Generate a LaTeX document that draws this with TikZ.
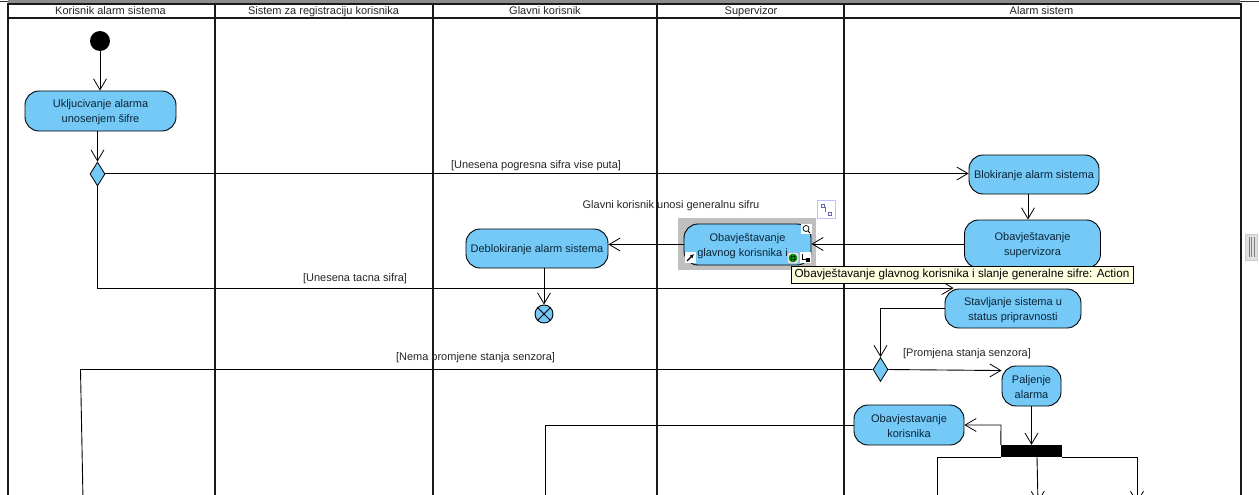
\documentclass[tikz,border=0pt]{standalone}
\usepackage{fontspec}
\setmainfont{Liberation Sans}
\usepackage{xcolor}
\usepackage{tikz}
\usetikzlibrary{positioning,arrows.meta,shapes.geometric}
\definecolor{actfill}{HTML}{74C9F6}
\definecolor{acttext}{HTML}{0B2438}
\definecolor{tipfill}{HTML}{FFFFE1}
\tikzset{
    action/.style={draw=black, fill=actfill, rounded corners=14pt, text=acttext, align=center, inner sep=0pt, line width=0.9pt, font=\fontsize{11}{15}\selectfont, execute at begin node=\rule{0pt}{11pt}},
    actiontwo/.style={action, execute at begin node=\rule{0pt}{26pt}},
    decision/.style={draw=black, fill=actfill, diamond, aspect=0.62, inner sep=0pt, minimum width=15pt, minimum height=24pt, line width=0.8pt},
    guard/.style={anchor=base, inner sep=0pt, text=black!85, font=\fontsize{11}{13}\selectfont},
    lanetitle/.style={anchor=base, inner sep=0pt, text=black!85, font=\fontsize{11}{13}\selectfont},
    laneline/.style={line width=2pt, black!90},
    flow/.style={->, line width=0.9pt, black},
    flowline/.style={line width=0.9pt, black}
}
\begin{document}
\begin{tikzpicture}[x=1pt, y=-1pt, >={Straight Barb[length=11pt,width=13pt,line width=0.8pt]}]
    \useasboundingbox (0,0) rectangle (1259,495);
    \clip (0,0) rectangle (1259,495);
    \fill[white] (0,0) rectangle (1259,495);

    % Window edge and scroll handle
    \draw[line width=0.8pt, black!80] (0,1) -- (1259,1);
    \fill[black!45] (8,0) rectangle (1240,3);
    \draw[fill=black!12, draw=black!20] (1245,234) rectangle (1257,260);
    \foreach \x in {1249,1251.5,1254} \draw[black!50, line width=0.6pt] (\x,237) -- (\x,257);

    % Swimlanes
    \draw[laneline] (7,4) -- (1240,4);
    \draw[laneline] (7,18) -- (1240,18);
    \foreach \x in {7.5,215,433,657,844.3,1240.5} \draw[laneline] (\x,3) -- (\x,495);
    \foreach \x/\name/\title in {110.5/laneA/Korisnik alarm sistema, 323.5/laneB/Sistem za registraciju korisnika, 545/laneC/Glavni korisnik, 751/laneD/Supervizor, 1041.5/laneE/Alarm sistem}
        \node[lanetitle] (\name) at (\x,15) {\title};

    % Korisnik alarm sistema
    \node[circle, fill=black, inner sep=0pt, minimum size=20pt] (start) at (100,41) {};
    \node[actiontwo, minimum width=151pt, minimum height=40pt] (ukljucivanje) at (100.5,111) {Ukljucivanje alarma\\unosenjem šifre};
    \node[decision] (dec1) at (97.5,174) {};

    % Selected action, with its handles
    \fill[black!25] (678,218) rectangle (816,270);
    \node[actiontwo, minimum width=127pt, minimum height=41pt] (obavGlavni) at (747.5,244.5) {Obavještavanje\\glavnog korisnika i\hspace*{10pt}};
    \node[draw=blue!25, fill=white, minimum size=18pt, inner sep=0pt] (resize) at (826,209) {};
    \draw[blue!50!black!60, line width=0.6pt] (821,204) rectangle (824,207) (825,207) -- (825,212) (828,212) rectangle (831,215);
    \fill[white] (685,252) rectangle (696,263);
    \draw[-{Latex[length=4pt,width=4pt]}, line width=1.3pt, black] (687,261) -- (694,254);
    \fill[white] (801,224) rectangle (812,234);
    \draw[black, fill=white, line width=0.7pt] (806,228.5) circle (3pt);
    \draw[black, line width=0.8pt] (808,231) -- (810,233);
    \node[draw=black!35, fill=black!10, rounded corners=2pt, minimum size=11pt, inner sep=0pt] (subframe) at (793,258) {};
    \node[circle, draw=green!40!black, fill=green!65!black, minimum size=8pt, inner sep=0pt] (subicon) at (793,258) {};
    \draw[green!25!black, line width=0.5pt] (790,256.5) -- (796,256.5) (790,259.5) -- (796,259.5) (791.5,255) -- (791.5,261) (794.5,255) -- (794.5,261);
    \fill[white] (800,252) rectangle (811,263);
    \draw[black, line width=0.8pt] (802,254) -- (802,259) -- (806,259);
    \fill[black] (806,258) rectangle (810,262);

    % Glavni korisnik
    \node[action, minimum width=142pt, minimum height=39pt] (deblokiranje) at (537,248.5) {Deblokiranje alarm sistema};
    \node[circle, draw=black, fill=actfill, inner sep=0pt, minimum size=18pt, line width=0.9pt] (finalDot) at (544,314) {};
    \draw[black, line width=0.9pt] (finalDot.north west) -- (finalDot.south east) (finalDot.north east) -- (finalDot.south west);

    % Alarm sistem
    \node[action, minimum width=130pt, minimum height=39pt] (blokiranje) at (1034,174.5) {Blokiranje alarm sistema};
    \node[actiontwo, minimum width=136pt, minimum height=48pt] (obavSuper) at (1032.5,244) {Obavještavanje\\supervizora};
    \node[actiontwo, minimum width=136pt, minimum height=39pt] (stavljanje) at (1013,308.5) {Stavljanje sistema u\\status pripravnosti};
    \node[decision] (dec2) at (880.5,369.5) {};
    \node[actiontwo, minimum width=59pt, minimum height=40pt] (paljenje) at (1031.5,386) {Paljenje\\alarma};
    \node[actiontwo, minimum width=110pt, minimum height=40pt] (obavKorisnik) at (909,425) {Obavjestavanje\\korisnika};
    \node[fill=black, minimum width=61pt, minimum height=12pt, inner sep=0pt] (forkbar) at (1031.5,451) {};

    % Free ends below the visible part
    \coordinate (outA) at (83,500);
    \coordinate (outB) at (545,500);
    \coordinate (outC) at (937,500);
    \coordinate (outD) at (1038,503);
    \coordinate (outE) at (1137,503);

    % Flows
    \draw[flow] (start) -- (ukljucivanje.north -| start);
    \draw[flow] (ukljucivanje.south -| dec1) -- (dec1.north);
    \draw[flow] ([yshift=0.5pt]dec1.east) -- ([yshift=0.5pt]blokiranje.west |- dec1.east);
    \draw[flow] (dec1.south) |- ([xshift=9pt,yshift=0.5pt]stavljanje.north west);
    \draw[flow] (blokiranje.south -| 1028,0) -- (obavSuper.north -| 1028,0);
    \draw[flow] (obavSuper.west) -- (obavGlavni.east |- obavSuper.west);
    \draw[flow] (obavGlavni.west) -- (deblokiranje.east |- obavGlavni.west);
    \draw[flow] (deblokiranje.south -| finalDot) -- (finalDot.north);
    \draw[flow] (stavljanje.west) -| (dec2.north);
    \draw[flow] (dec2.east) -- ([yshift=-5pt]paljenje.north west);
    \draw[flowline] (dec2.west) -- (80.5,369.5) -- (outA);
    \draw[flow] (paljenje) -- (forkbar.north);
    \draw[flow] (forkbar.north west) -- (1001,425) -- (obavKorisnik.east);
    \draw[flowline] (obavKorisnik.west) -| (outB);
    \draw[flowline] (forkbar.south west) -| (outC);
    \draw[flow] (1037,457) -- (outD);
    \draw[flow] (forkbar.south east) -| (outE);

    % Guards
    \node[guard] (guardPogresna) at (536,168) {[Unesena pogresna sifra vise puta]};
    \node[guard] (guardTacna) at (355,281.5) {[Unesena tacna sifra]};
    \node[guard] (guardNema) at (475.5,360.5) {[Nema promjene stanja senzora]};
    \node[guard] (guardPromjena) at (967,356) {[Promjena stanja senzora]};
    \node[guard] (guardGeneralna) at (671,208) {Glavni korisnik unosi generalnu sifru};

    % Tooltip
    \node[draw=black, fill=tipfill, minimum width=342pt, minimum height=17pt, inner sep=0pt, font=\fontsize{11.7}{13}\selectfont] (tooltip) at (962,274.5) {Obavještavanje glavnog korisnika i slanje generalne sifre: Action};
\end{tikzpicture}
\end{document}
